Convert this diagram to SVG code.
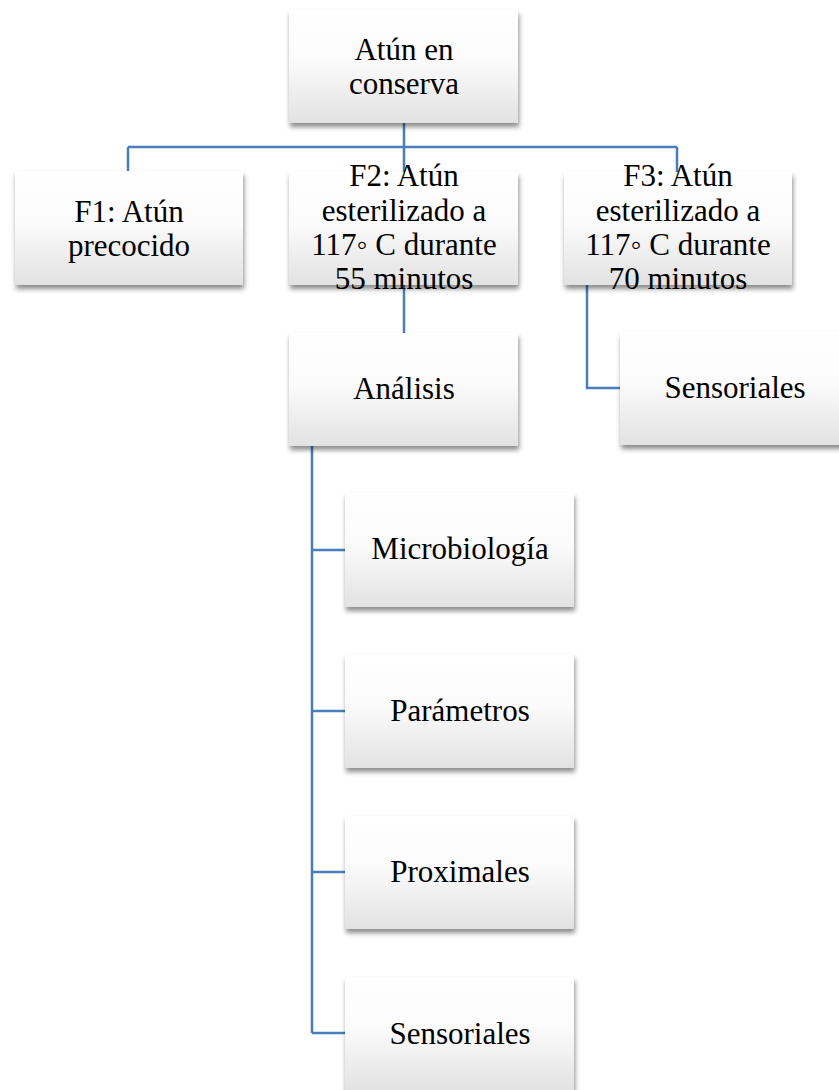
<svg xmlns="http://www.w3.org/2000/svg" width="839" height="1090" viewBox="0 0 839 1090">
  <defs>
    <linearGradient id="boxFill" x1="0" y1="0" x2="0" y2="1">
      <stop offset="0" stop-color="#ffffff"/>
      <stop offset="0.45" stop-color="#fbfbfb"/>
      <stop offset="1" stop-color="#e2e2e2"/>
    </linearGradient>
    <filter id="shadow" x="-10%" y="-10%" width="125%" height="130%">
      <feDropShadow dx="1" dy="4" stdDeviation="2.5" flood-color="#000" flood-opacity="0.45"/>
    </filter>
  </defs>
  <style>
    .box { fill: url(#boxFill); filter: url(#shadow); }
    .lbl { font-family: "Liberation Serif", "Times New Roman", serif; font-size: 31px; fill: #000; text-anchor: middle; }
    .conn { fill: none; stroke: #4a7ebb; stroke-width: 2.5; }
  </style>
  <rect width="839" height="1090" fill="#ffffff"/>

  <!-- connectors -->
  <g id="connectors">
    <path class="conn" d="M404 123 V147 M128 147 H677 M128 147 V171 M404 147 V172 M677 147 V172"/>
    <path class="conn" d="M404 285 V333"/>
    <path class="conn" d="M587 285 V388 H620"/>
    <path class="conn" d="M312 446 V1033 M312 550 H345 M312 711 H345 M312 872 H345 M312 1033 H345"/>
  </g>

  <g id="n-root">
    <rect class="box" x="289" y="10" width="229" height="113"/>
    <text class="lbl" x="404" y="59.5">Atún en</text>
    <text class="lbl" x="404" y="93.5">conserva</text>
  </g>
  <g id="n-f1">
    <rect class="box" x="15" y="171" width="228" height="114"/>
    <text class="lbl" x="129" y="222">F1: Atún</text>
    <text class="lbl" x="129" y="256">precocido</text>
  </g>
  <g id="n-f2">
    <rect class="box" x="289" y="172" width="229" height="113"/>
    <text class="lbl" x="404" y="186">F2: Atún</text>
    <text class="lbl" x="404" y="220.5">esterilizado a</text>
    <text class="lbl" x="404" y="255">117◦ C durante</text>
    <text class="lbl" x="404" y="289">55 minutos</text>
  </g>
  <g id="n-f3">
    <rect class="box" x="564" y="172" width="228" height="113"/>
    <text class="lbl" x="678" y="186">F3: Atún</text>
    <text class="lbl" x="678" y="220.5">esterilizado a</text>
    <text class="lbl" x="678" y="255">117◦ C durante</text>
    <text class="lbl" x="678" y="289">70 minutos</text>
  </g>
  <g id="n-analisis">
    <rect class="box" x="289" y="333" width="229" height="113"/>
    <text class="lbl" x="404" y="399">Análisis</text>
  </g>
  <g id="n-sens-f3">
    <rect class="box" x="620" y="332" width="229" height="113"/>
    <text class="lbl" x="735" y="398">Sensoriales</text>
  </g>
  <g id="n-micro">
    <rect class="box" x="345" y="493" width="229" height="114"/>
    <text class="lbl" x="460" y="559">Microbiología</text>
  </g>
  <g id="n-param">
    <rect class="box" x="345" y="654" width="229" height="114"/>
    <text class="lbl" x="460" y="721">Parámetros</text>
  </g>
  <g id="n-prox">
    <rect class="box" x="345" y="816" width="229" height="113"/>
    <text class="lbl" x="460" y="882">Proximales</text>
  </g>
  <g id="n-sens">
    <rect class="box" x="345" y="977" width="229" height="114"/>
    <text class="lbl" x="460" y="1044">Sensoriales</text>
  </g>
</svg>
